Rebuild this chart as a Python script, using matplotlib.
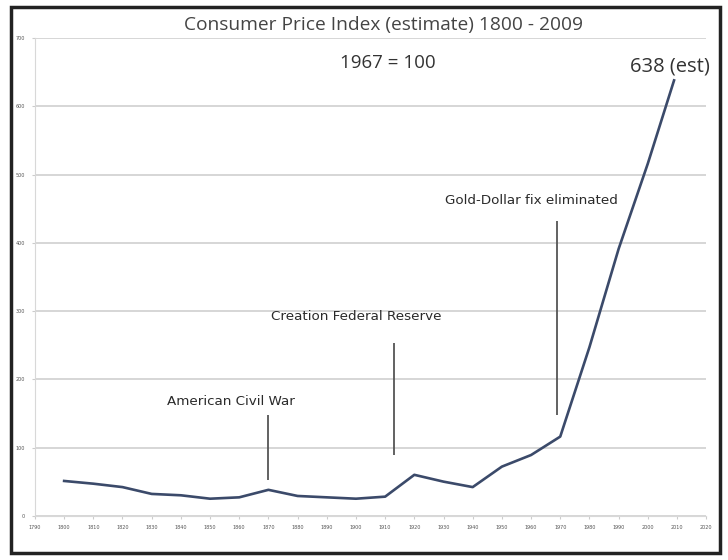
import matplotlib.pyplot as plt
from matplotlib.patches import Rectangle

# CPI estimate, 1967 = 100
years = [1800, 1810, 1820, 1830, 1840, 1850, 1860, 1870, 1880, 1890, 1900,
         1910, 1920, 1930, 1940, 1950, 1960, 1970, 1980, 1990, 2000, 2009]
cpi = [51, 47, 42, 32, 30, 25, 27, 38, 29, 27, 25,
       28, 60, 50, 42, 72, 89, 116, 247, 391, 516, 638]

# event markers: (year of line, line bottom, line top, label, label x, label y)
events = [
    (1870, 53, 147, "American Civil War", 1857, 158),
    (1913, 89, 253, "Creation Federal Reserve", 1900, 282),
    (1969, 147, 432, "Gold-Dollar fix eliminated", 1960, 453),
]

x_ticks = list(range(1790, 2021, 10))
y_ticks = list(range(0, 701, 100))

fig = plt.figure(figsize=(7.28, 5.6), dpi=100)
ax = fig.add_axes([0.048, 0.079, 0.922, 0.853])

ax.plot(years, cpi, color='#3b4a6a', linewidth=1.9, zorder=3)

for yr, lo, hi, label, tx, ty in events:
    ax.vlines(yr, lo, hi, color='#555555', linewidth=1.3)
    ax.text(tx, ty, label, ha='center', va='bottom', fontsize=9.7,
            color='#2a2a2a', family='DejaVu Sans', fontweight='medium')

ax.text(1911, 664, "1967 = 100", ha='center', va='center', fontsize=13.5,
        color='#333333', family='Open Sans')
ax.text(1994, 658, "638 (est)", ha='left', va='center', fontsize=14.5,
        color='#333333', family='Open Sans', clip_on=False)

ax.set_xlim(1790, 2020)
ax.set_ylim(0, 700)
ax.set_xticks(x_ticks)
ax.set_xticklabels([str(t) for t in x_ticks], fontsize=3.5, color='#555555')
ax.set_yticks(y_ticks)
ax.set_yticklabels([str(t) for t in y_ticks], fontsize=3.5, color='#555555')
ax.tick_params(length=2, color='#cccccc', pad=5)
ax.grid(axis='y', color='#d0d0d0', linewidth=1.2)
for side in ['top', 'right']:
    ax.spines[side].set_visible(False)
ax.spines['left'].set_color('#d8d8d8')
ax.spines['bottom'].set_color('#d8d8d8')

fig.text(0.527, 0.955, "Consumer Price Index (estimate) 1800 - 2009",
         ha='center', va='center', fontsize=13.8, color='#444444',
         family='Open Sans')

# outer frame around the whole picture
fig.patches.append(Rectangle((11 / 728, 7 / 560), 709 / 728, 546 / 560,
                             transform=fig.transFigure, fill=False,
                             edgecolor='#222222', linewidth=2.5, zorder=10))

fig.savefig('out.png', dpi=100)
